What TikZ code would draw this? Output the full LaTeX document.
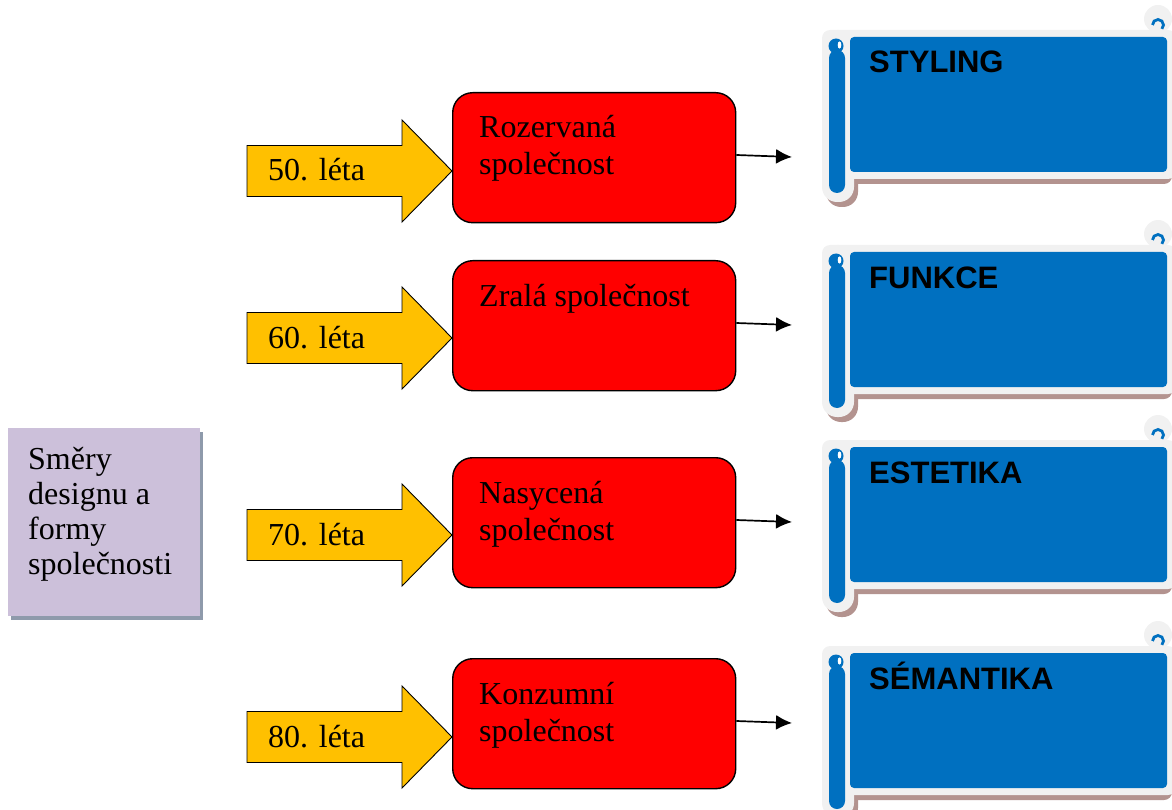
\documentclass[tikz,border=0pt]{standalone}
\usepackage{fontspec}
\setmainfont{Liberation Serif}
\newfontfamily\headfont{Liberation Sans}
\usetikzlibrary{calc,arrows.meta}
\definecolor{lav}{HTML}{CCC0DA}
\definecolor{lavsh}{HTML}{8E9AAB}
\definecolor{yel}{HTML}{FFC000}
\definecolor{scblue}{HTML}{0070C0}
\definecolor{scgrey}{HTML}{F1F1F1}
\definecolor{scshadow}{HTML}{B3938F}
\tikzset{
  redbox/.style={draw=black, line width=1.4pt, fill=red, rounded corners=20pt,
    minimum width=283pt, minimum height=130pt, inner sep=0pt, anchor=north west},
  yarrow/.style={draw=black, line width=0.9pt, fill=yel},
  bodytext/.style={font=\fontsize{32}{36}\selectfont, inner sep=0pt, anchor=base west},
  scrolltitle/.style={font=\headfont\bfseries\fontsize{31}{34}\selectfont, inner sep=0pt, anchor=base west},
  conn/.style={line width=1.7pt, -{Latex[length=16pt,width=15pt]}},
}
\newcommand\scrollshape[3]{%
  \begin{scope}[shift={(0,#1)}]
    % shadow
    \fill[scshadow, rounded corners=8pt] (830,40) rectangle (1172,184);
    \fill[scshadow, rounded corners=15pt] (826,40) rectangle (858,207);
    % grey frame
    \fill[scgrey, rounded corners=8pt] (822,30) rectangle (1176,179);
    \fill[scgrey, rounded corners=15pt] (822,30) rectangle (854,202);
    \fill[scgrey] (1158,19) circle[radius=14pt];
    % blue parts
    \fill[scblue, rounded corners=4pt] (850,37) rectangle (1167,172);
    \fill[scblue, rounded corners=8pt] (829,50) rectangle (845,193);
    \fill[scblue] (836,46) circle[radius=7.5pt];
    \fill[white] (839.5,45) ellipse[x radius=1.8pt, y radius=3.6pt];
    \draw[scblue, line width=2.8pt] (1152.5,25) arc[start angle=180, end angle=-45, radius=5.5pt];
    \node[scrolltitle] (s#3) at (869,73) {#2};
  \end{scope}}
\newcommand\diagrow[8]{%
  % #1 id, #2 box top, #3 arrow centre, #4 scroll offset, #5 year, #6 line1, #7 line2, #8 title
  \draw[yarrow] (247,#3-25.5) -- (402,#3-25.5) -- (402,#3-51) -- (452,#3)
     -- (402,#3+51) -- (402,#3+25.5) -- (247,#3+25.5) -- cycle;
  \node[bodytext] (y#1) at (268,#3+10) {#5};
  \node[redbox] (r#1) at (452,#2) {};
  \node[bodytext] (ra#1) at (479,#2+46) {#6};
  \if\relax\detokenize{#7}\relax\else
    \node[bodytext] (rb#1) at (479,#2+83) {#7};
  \fi
  \coordinate (e#1) at (792,#2+65);
  \draw[conn] ($(r#1.north east)+(0,63)$) -- (e#1);
  \scrollshape{#4}{#8}{#1}}
\begin{document}
\begin{tikzpicture}[x=1pt,y=-1pt]
  \useasboundingbox (0,0) rectangle (1172,810);
  % left box
  \fill[lavsh] (11,432) rectangle (203,620);
  \fill[lav] (8,428) rectangle (200,616);
  \node[bodytext] (m1) at (28,469) {Směry};
  \node[bodytext] (m2) at (28,504) {designu a};
  \node[bodytext] (m3) at (28,539) {formy};
  \node[bodytext] (m4) at (28,574) {společnosti};
  \diagrow{1}{92}{171}{0}{50. léta}{Rozervaná}{společnost}{STYLING}
  \diagrow{2}{260}{338}{215}{60. léta}{Zralá společnost}{}{FUNKCE}
  \diagrow{3}{457}{535}{410}{70. léta}{Nasycená}{společnost}{ESTETIKA}
  \diagrow{4}{658}{737}{616}{80. léta}{Konzumní}{společnost}{SÉMANTIKA}
\end{tikzpicture}
\end{document}
